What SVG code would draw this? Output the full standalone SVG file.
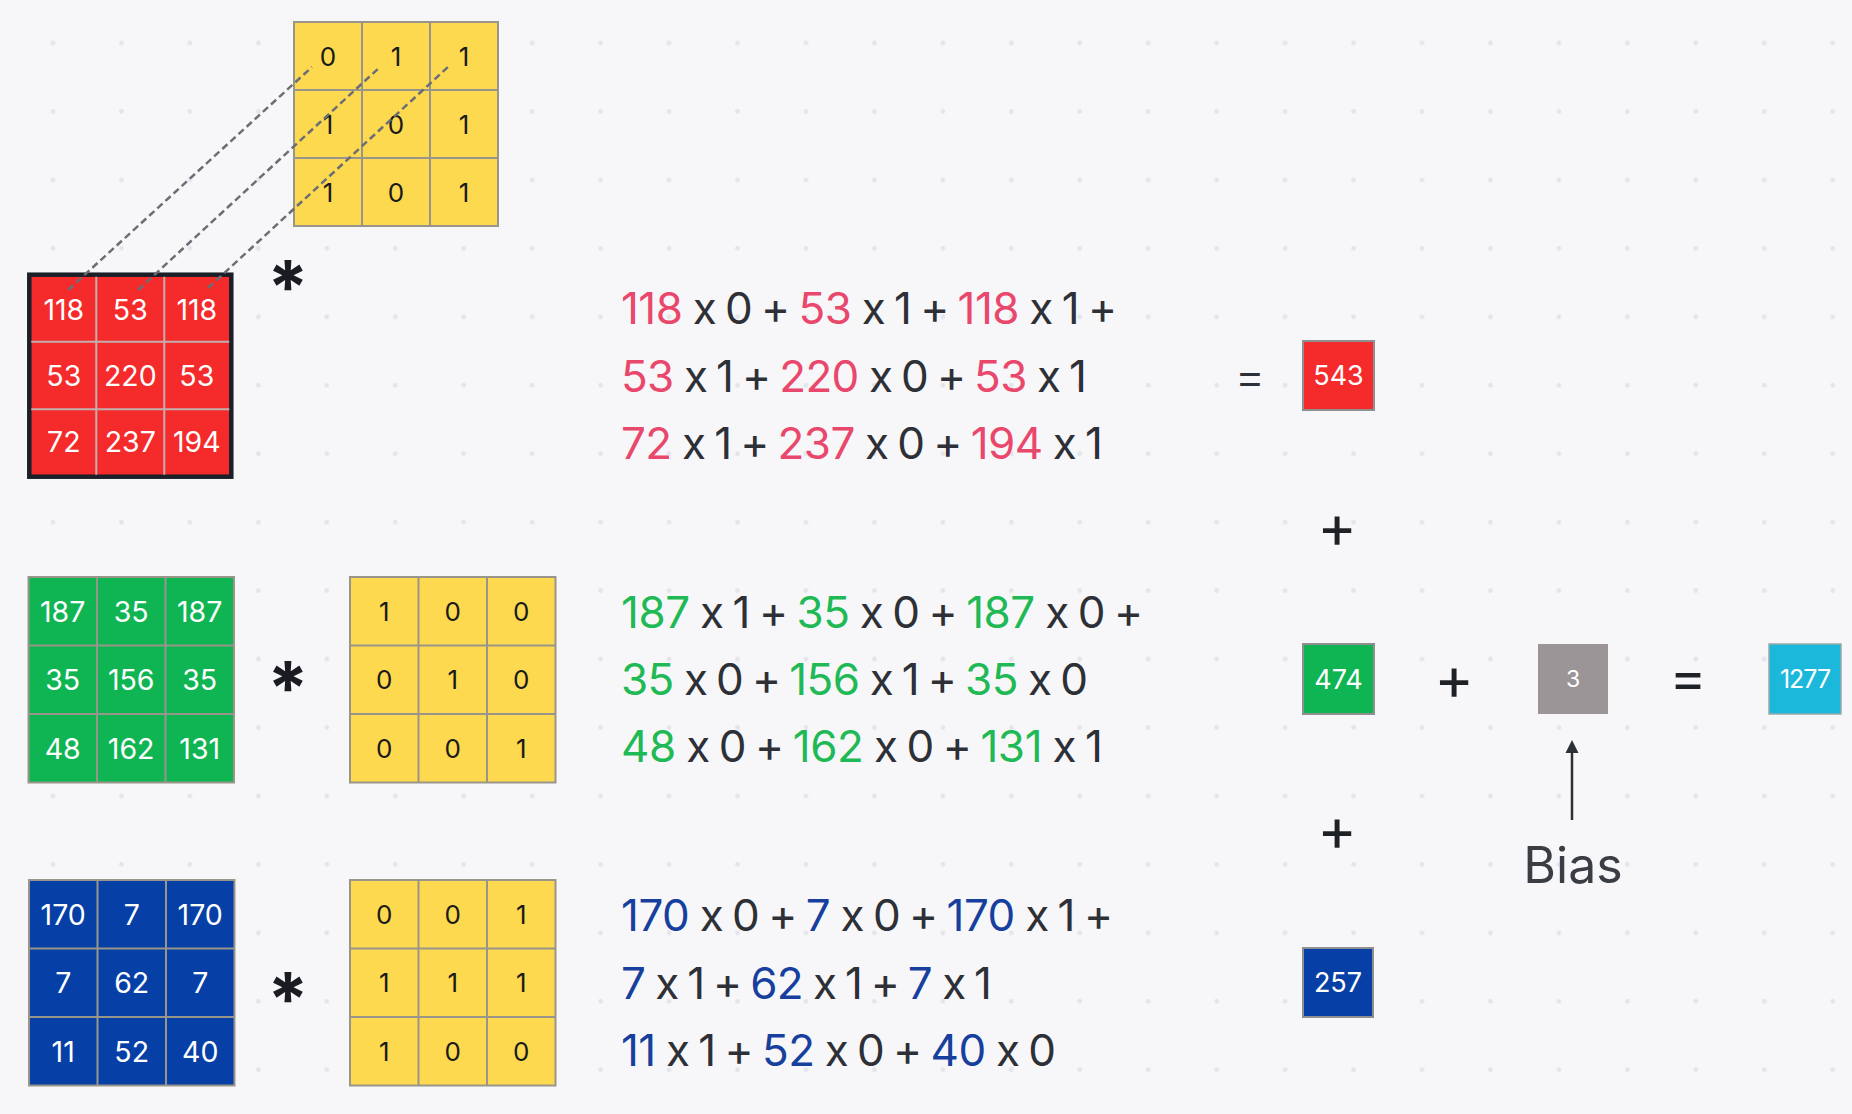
<svg xmlns="http://www.w3.org/2000/svg" width="1852" height="1114" viewBox="0 0 1852 1114">
<defs>
<pattern id="dots" x="18.8" y="8.8" width="68.45" height="68.45" patternUnits="userSpaceOnUse">
<circle cx="34.2" cy="34.2" r="2.4" fill="#e4e5eb"/>
</pattern>
<marker id="ah" markerWidth="14" markerHeight="14" refX="0" refY="7" orient="auto" markerUnits="userSpaceOnUse">
<path d="M0,0.5 L13,7 L0,13.5 z" fill="#2d3036"/>
</marker>
</defs>
<style>
text{font-family:Inter,"Liberation Sans",sans-serif;font-feature-settings:"calt" 0}
.frame{stroke:#9a958a;stroke-width:2}
.grid{stroke:#9a958a;stroke-width:2}
.gridR{stroke:#c2b0b0;stroke-width:2}
.yel{fill:#fdd94f}
.red{fill:#f42a2b}
.grn{fill:#0fb553}
.blu{fill:#0640a6}
.cv{fill:#ffffff;font-size:28.5px;text-anchor:middle}
.kv{fill:#1a1a1a;font-size:26px;text-anchor:middle}
.eq{font-size:44px;fill:#2d3036}
.er{fill:#e9476b;letter-spacing:1.5px}
.eg{fill:#1fb955;letter-spacing:1.5px}
.eb{fill:#173f9d;letter-spacing:1.5px}
.op{fill:#1e2126;font-size:60px;text-anchor:middle}
.rv{fill:#ffffff;font-size:27px;text-anchor:middle}
.ast{fill:#1a1c22;font-size:74px;font-weight:700;text-anchor:middle}
.dash{stroke:#6b6e75;stroke-width:2.5;stroke-dasharray:7 4;fill:none}
</style>
<rect width="1852" height="1114" fill="#f7f7f9"/>
<rect width="1852" height="1114" fill="url(#dots)"/>

<!-- top kernel -->
<g id="kernel-red" transform="translate(294,22)">
<rect width="204" height="204" class="yel frame"/>
<path class="grid" d="M68,0V204M136,0V204M0,68H204M0,136H204"/>
<text class="kv" x="34" y="43.5">0</text><text class="kv" x="102" y="43.5">1</text><text class="kv" x="170" y="43.5">1</text>
<text class="kv" x="34" y="111.5">1</text><text class="kv" x="102" y="111.5">0</text><text class="kv" x="170" y="111.5">1</text>
<text class="kv" x="34" y="179.5">1</text><text class="kv" x="102" y="179.5">0</text><text class="kv" x="170" y="179.5">1</text>
</g>

<!-- red input -->
<g id="input-red" transform="translate(29.3,274.7)">
<rect width="202" height="202" class="red" stroke="#1b1f27" stroke-width="4.5"/>
<path class="gridR" d="M67,2V200M135,2V200M2,67H200M2,134.5H200"/>
<text class="cv" x="34.5" y="45">118</text><text class="cv" x="101" y="45">53</text><text class="cv" x="167.5" y="45">118</text>
<text class="cv" x="34.5" y="111">53</text><text class="cv" x="101" y="111">220</text><text class="cv" x="167.5" y="111">53</text>
<text class="cv" x="34.5" y="177">72</text><text class="cv" x="101" y="177">237</text><text class="cv" x="167.5" y="177">194</text>
</g>
<text id="op-ast-red" class="ast" x="288" y="314">*</text>

<!-- green input -->
<g id="input-green" transform="translate(28.5,577)">
<rect width="205.5" height="205.5" class="grn frame"/>
<path class="grid" d="M68.5,0V205.5M137,0V205.5M0,68.5H205.5M0,137H205.5"/>
<text class="cv" x="34.2" y="44.5">187</text><text class="cv" x="102.7" y="44.5">35</text><text class="cv" x="171.2" y="44.5">187</text>
<text class="cv" x="34.2" y="113">35</text><text class="cv" x="102.7" y="113">156</text><text class="cv" x="171.2" y="113">35</text>
<text class="cv" x="34.2" y="181.5">48</text><text class="cv" x="102.7" y="181.5">162</text><text class="cv" x="171.2" y="181.5">131</text>
</g>
<text id="op-ast-green" class="ast" x="288" y="715">*</text>
<g id="kernel-green" transform="translate(350,577)">
<rect width="205.5" height="205.5" class="yel frame"/>
<path class="grid" d="M68.5,0V205.5M137,0V205.5M0,68.5H205.5M0,137H205.5"/>
<text class="kv" x="34.2" y="43.5">1</text><text class="kv" x="102.7" y="43.5">0</text><text class="kv" x="171.2" y="43.5">0</text>
<text class="kv" x="34.2" y="112">0</text><text class="kv" x="102.7" y="112">1</text><text class="kv" x="171.2" y="112">0</text>
<text class="kv" x="34.2" y="180.5">0</text><text class="kv" x="102.7" y="180.5">0</text><text class="kv" x="171.2" y="180.5">1</text>
</g>

<!-- blue input -->
<g id="input-blue" transform="translate(29,880)">
<rect width="205.5" height="205.5" class="blu frame"/>
<path class="grid" d="M68.5,0V205.5M137,0V205.5M0,68.5H205.5M0,137H205.5"/>
<text class="cv" x="34.2" y="44.5">170</text><text class="cv" x="102.7" y="44.5">7</text><text class="cv" x="171.2" y="44.5">170</text>
<text class="cv" x="34.2" y="113">7</text><text class="cv" x="102.7" y="113">62</text><text class="cv" x="171.2" y="113">7</text>
<text class="cv" x="34.2" y="181.5">11</text><text class="cv" x="102.7" y="181.5">52</text><text class="cv" x="171.2" y="181.5">40</text>
</g>
<text id="op-ast-blue" class="ast" x="288" y="1026">*</text>
<g id="kernel-blue" transform="translate(350,880)">
<rect width="205.5" height="205.5" class="yel frame"/>
<path class="grid" d="M68.5,0V205.5M137,0V205.5M0,68.5H205.5M0,137H205.5"/>
<text class="kv" x="34.2" y="43.5">0</text><text class="kv" x="102.7" y="43.5">0</text><text class="kv" x="171.2" y="43.5">1</text>
<text class="kv" x="34.2" y="112">1</text><text class="kv" x="102.7" y="112">1</text><text class="kv" x="171.2" y="112">1</text>
<text class="kv" x="34.2" y="180.5">1</text><text class="kv" x="102.7" y="180.5">0</text><text class="kv" x="171.2" y="180.5">0</text>
</g>

<!-- equations -->
<g id="eq-red" class="eq">
<text x="621" y="324" textLength="496" lengthAdjust="spacing"><tspan class="er">118</tspan> x 0 + <tspan class="er">53</tspan> x 1 + <tspan class="er">118</tspan> x 1 +</text>
<text x="621" y="392" textLength="466" lengthAdjust="spacing"><tspan class="er">53</tspan> x 1 + <tspan class="er">220</tspan> x 0 + <tspan class="er">53</tspan> x 1</text>
<text x="621" y="459" textLength="482" lengthAdjust="spacing"><tspan class="er">72</tspan> x 1 + <tspan class="er">237</tspan> x 0 + <tspan class="er">194</tspan> x 1</text>
</g>
<g id="eq-green" class="eq">
<text x="621" y="628" textLength="522" lengthAdjust="spacing"><tspan class="eg">187</tspan> x 1 + <tspan class="eg">35</tspan> x 0 + <tspan class="eg">187</tspan> x 0 +</text>
<text x="621" y="695" textLength="467" lengthAdjust="spacing"><tspan class="eg">35</tspan> x 0 + <tspan class="eg">156</tspan> x 1 + <tspan class="eg">35</tspan> x 0</text>
<text x="621" y="762" textLength="482" lengthAdjust="spacing"><tspan class="eg">48</tspan> x 0 + <tspan class="eg">162</tspan> x 0 + <tspan class="eg">131</tspan> x 1</text>
</g>
<g id="eq-blue" class="eq">
<text x="621" y="931" textLength="492" lengthAdjust="spacing"><tspan class="eb">170</tspan> x 0 + <tspan class="eb">7</tspan> x 0 + <tspan class="eb">170</tspan> x 1 +</text>
<text x="621" y="999" textLength="371" lengthAdjust="spacing"><tspan class="eb">7</tspan> x 1 + <tspan class="eb">62</tspan> x 1 + <tspan class="eb">7</tspan> x 1</text>
<text x="621" y="1066" textLength="435" lengthAdjust="spacing"><tspan class="eb">11</tspan> x 1 + <tspan class="eb">52</tspan> x 0 + <tspan class="eb">40</tspan> x 0</text>
</g>

<!-- operators -->
<text id="op-eq1" x="1250" y="393" style="fill:#2d3036;font-size:48px;font-weight:300;text-anchor:middle">=</text>
<text id="op-plus1" class="op" x="1337" y="548">+</text>
<text id="op-plus2" class="op" x="1454" y="700">+</text>
<text id="op-plus3" class="op" x="1337" y="851">+</text>
<text id="op-eq2" x="1688" y="697" style="fill:#1e2126;font-size:56px;text-anchor:middle">=</text>

<!-- results -->
<g id="res-red">
<rect x="1303" y="341" width="71" height="69" fill="#f42a2b" stroke="#8f8f8f" stroke-width="2"/>
<text class="rv" x="1338.5" y="385">543</text>
</g>
<g id="res-green">
<rect x="1303" y="644" width="71" height="70" fill="#0fb553" stroke="#8f8f8f" stroke-width="2"/>
<text class="rv" x="1338.5" y="689">474</text>
</g>
<g id="res-blue">
<rect x="1303" y="948" width="70" height="69" fill="#0640a6" stroke="#8f8f8f" stroke-width="2"/>
<text class="rv" x="1338" y="992">257</text>
</g>
<g id="bias">
<rect x="1538" y="644" width="70" height="70" fill="#9b9597"/>
<text x="1573" y="687" style="fill:#ffffff;font-size:23px;text-anchor:middle">3</text>
</g>
<g id="output">
<rect x="1769" y="644" width="72" height="70" fill="#1bb8dc" stroke="#9aa" stroke-width="1.5"/>
<text x="1805" y="688" style="fill:#ffffff;font-size:25px;text-anchor:middle;letter-spacing:-1px">1277</text>
</g>
<g id="bias-label">
<text x="1573" y="883" style="fill:#3a3d44;font-size:50px;text-anchor:middle">Bias</text>
</g>

<!-- connectors -->
<g id="connectors">
<path class="dash" d="M68,290L312,67"/>
<path class="dash" d="M138,290L380,67"/>
<path class="dash" d="M208,288L448,67"/>
<path d="M1572,820V753" stroke="#2d3036" stroke-width="2.5" marker-end="url(#ah)"/>
</g>
</svg>
